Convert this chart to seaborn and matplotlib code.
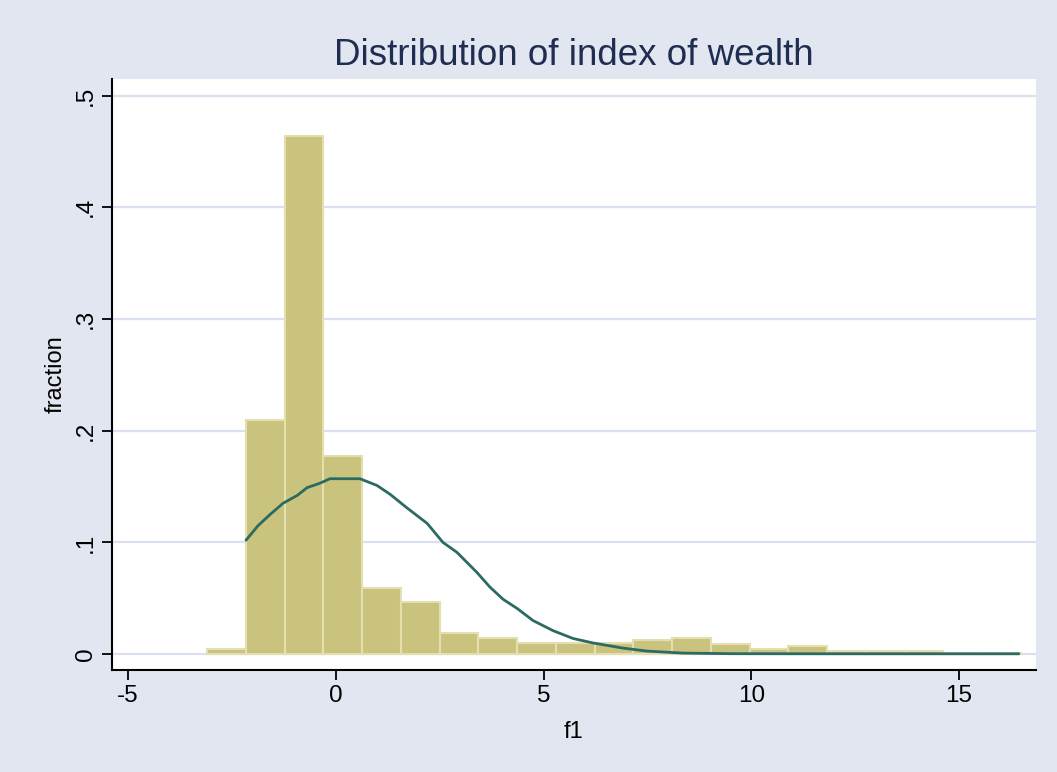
import numpy as np
import pandas as pd
import matplotlib.pyplot as plt
import seaborn as sns

#%% datos

bin_edges = [-3.100, -2.167, -1.234, -0.301, 0.632, 1.565, 2.498, 3.431, 4.364,
             5.297, 6.230, 7.163, 8.096, 9.029, 9.962, 10.895, 11.828, 12.761,
             13.694, 14.627, 15.560, 16.493]
fraction = [0.0045, 0.2095, 0.4640, 0.1775, 0.0590, 0.0468, 0.0188, 0.0148,
            0.0102, 0.0102, 0.0102, 0.0126, 0.0148, 0.0089, 0.0045, 0.0074,
            0.0025, 0.0025, 0.0025, 0.0008, 0.0008]

curve_x = [-2.16, -1.87, -1.58, -1.27, -0.93, -0.69, -0.38, -0.14, 0.58, 0.99,
           1.31, 1.71, 2.20, 2.58, 2.92, 3.40, 3.71, 4.03, 4.36, 4.75, 5.23,
           5.71, 6.19, 6.91, 7.49, 8.36, 9.50, 12.00, 14.00, 16.44]
curve_y = [0.102, 0.115, 0.125, 0.135, 0.142, 0.149, 0.153, 0.157, 0.157, 0.151,
           0.143, 0.131, 0.117, 0.100, 0.091, 0.073, 0.060, 0.049, 0.041, 0.030,
           0.021, 0.014, 0.010, 0.0054, 0.0027, 0.0009, 0.0004, 0.0003, 0.0003,
           0.0003]

x_ticks = [-5, 0, 5, 10, 15]
y_ticks = [0, 0.1, 0.2, 0.3, 0.4, 0.5]
y_ticklabels = ['0', '.1', '.2', '.3', '.4', '.5']

#%%

centros = [(bin_edges[i] + bin_edges[i + 1]) / 2 for i in range(len(fraction))]
hist = pd.DataFrame({'f1': centros, 'fraction': fraction})
curva = pd.DataFrame({'f1': curve_x, 'densidad': curve_y})

fondo = '#E1E6F0'

sns.set_theme(style='white')
plt.rcParams['font.family'] = ['Liberation Sans', 'DejaVu Sans']

fig = plt.figure(figsize=(10.57, 7.72), dpi=100, facecolor=fondo)
ax = fig.add_axes([0.106, 0.132, 0.874, 0.766])
ax.set_facecolor('white')

ax.grid(axis='y', color='#DAE0EE', linewidth=1.6)
ax.set_axisbelow(True)

sns.histplot(data=hist, x='f1', weights='fraction', bins=bin_edges,
             stat='count', color='#C9C37D', edgecolor='#E4DFB0',
             linewidth=1.5, alpha=1, ax=ax)
sns.lineplot(data=curva, x='f1', y='densidad', color='#2B6B63',
             linewidth=2, ax=ax)

ax.set_xlim(-5.385, 16.85)
ax.set_ylim(-0.0143, 0.515)
ax.set_xticks(x_ticks, [str(t) for t in x_ticks])
ax.set_yticks(y_ticks, y_ticklabels)
plt.setp(ax.get_yticklabels(), rotation=90, va='center')

for lado in ['top', 'right']:
    ax.spines[lado].set_visible(False)
for lado in ['left', 'bottom']:
    ax.spines[lado].set_color('black')
    ax.spines[lado].set_linewidth(1.5)

ax.tick_params(axis='both', direction='out', length=7, width=1.3,
               color='black', labelsize=17.5, labelcolor='black', pad=4,
               bottom=True, left=True)

ax.set_xlabel('f1', fontsize=17, color='black', labelpad=10)
ax.set_ylabel('fraction', fontsize=17, color='black', labelpad=6)
ax.set_title('Distribution of index of wealth', fontsize=26.5,
             color='#1E2D50', pad=10)

plt.savefig('out.png', format='png', dpi=100, facecolor=fondo)
